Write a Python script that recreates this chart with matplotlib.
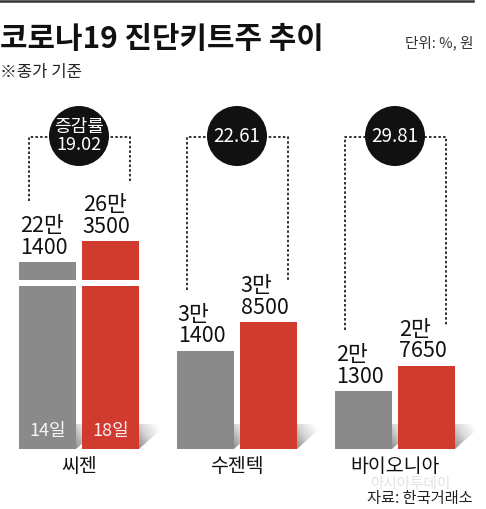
import matplotlib
matplotlib.use('Agg')
import matplotlib.pyplot as plt
import numpy as np
from matplotlib.patches import Circle, Polygon, Rectangle
from matplotlib.lines import Line2D
from matplotlib.colors import LinearSegmentedColormap

plt.rcParams['font.family'] = ['Noto Sans CJK KR', 'DejaVu Sans']

# ---------------- data ----------------
companies = ['씨젠', '수젠텍', '바이오니아']
price_14 = [221400, 31400, 21300]
price_18 = [263500, 38500, 27650]
change_pct = [19.02, 22.61, 29.81]
day_labels = ['14일', '18일']
change_title = '증감률'

# ---------------- layout ----------------
W, H = 486, 509
fig = plt.figure(figsize=(W / 100, H / 100), dpi=100)
fig.patch.set_facecolor('white')


def fx(px):
    return px / W


def fy(py):  # py measured from top
    return 1 - py / H


GRAY = '#8a8a8a'
RED = '#d03a2f'
x = np.arange(len(companies))
off = 0.199
bw = 0.361
xlim = (-0.5, 2.576)

bg = fig.add_axes([0, 0, 1, 1], zorder=0)
lo = fig.add_axes([0, fy(449), 1, fy(280) - fy(449)], zorder=1)
up = fig.add_axes([0, fy(286), 1, fy(100) - fy(286)], zorder=1)
ov = fig.add_axes([0, 0, 1, 1], zorder=5)
for a in (bg, ov):
    a.set_xlim(0, W)
    a.set_ylim(0, H)
    a.axis('off')
    a.patch.set_alpha(0)
for a in (lo, up):
    a.set_xlim(*xlim)
    a.axis('off')
    a.patch.set_alpha(0)
lo.set_ylim(6850, 48980)
up.set_ylim(173300, 546200)
lo_top = lo.get_ylim()[1]

series = [(price_14, GRAY, -off), (price_18, RED, off)]
p14 = np.array(price_14)
p18 = np.array(price_18)

# bars (lower part everywhere, upper part for the broken group)
for vals, col, dx in series:
    vals = np.array(vals)
    lo.bar(x + dx, vals, bw, color=col, zorder=3, clip_on=True)
    m = vals > lo_top
    up.bar(x[m] + dx, vals[m], bw, color=col, zorder=3, clip_on=True)

# white break band across bars that exceed the lower axis
band_lo = lo.transAxes.transform((0, 1))[1]
band_hi = up.transAxes.transform((0, 0))[1]
for i in range(len(companies)):
    if max(p14[i], p18[i]) > lo_top:
        xa = lo.transData.transform((x[i] - off - bw / 2 - 0.02, 0))[0]
        xb = lo.transData.transform((x[i] + off + bw / 2 + 0.02, 0))[0]
        ov.add_patch(Rectangle((xa, band_lo), xb - xa, band_hi - band_lo,
                               facecolor='white', edgecolor='none', zorder=1))


def label_text(v):
    return f"{v // 10000}만\n{v % 10000}"


def top_px(xv, v):
    ax = up if v > lo_top else lo
    return ax.transData.transform((xv, v))


# value labels
for vals, col, dx in series:
    for i, v in enumerate(vals):
        ax = up if v > lo_top else lo
        ax.annotate(label_text(v), (x[i] + dx - bw / 2, v), xytext=(0.5, 2.5),
                    textcoords='offset points', ha='left', va='bottom',
                    fontsize=15.5, linespacing=0.95, color='#111', zorder=6)

# day labels inside first group's bars
for (vals, col, dx), d in zip(series, day_labels):
    lo.annotate(d, (x[0] + dx, 0), xycoords=('data', 'axes fraction'),
                xytext=(0, 13), textcoords='offset points', ha='center',
                va='center', fontsize=13, color='white', alpha=0.92, zorder=6)

# category labels
for i, name in enumerate(companies):
    lo.annotate(name, (x[i], 0), xycoords=('data', 'axes fraction'),
                xytext=(0, -12.5), textcoords='offset points', ha='center',
                va='center', fontsize=14, color='#111', annotation_clip=False)

# floor shadows (gradient triangles) behind bars
cmap = LinearSegmentedColormap.from_list('sh', ['#8f8f8f', '#d6d6d6', '#ffffff'])
uu, vv = np.meshgrid(np.linspace(0, 1, 60), np.linspace(0, 1, 60))
grad = np.clip(0.8 * uu + 0.5 * vv, 0, 1)
floor = lo.get_ylim()[0]
for vals, col, dx in series:
    for i in range(len(companies)):
        xr_px, yb_px = lo.transData.transform((x[i] + dx + bw / 2, floor))
        poly = Polygon([(xr_px, yb_px), (xr_px, yb_px + 25), (xr_px + 28, yb_px + 25)],
                       closed=True, transform=bg.transData, facecolor='none', edgecolor='none')
        bg.add_patch(poly)
        im = bg.imshow(grad, cmap=cmap, vmin=0, vmax=1, origin='lower',
                       extent=[xr_px, xr_px + 28, yb_px, yb_px + 25], aspect='auto',
                       interpolation='bilinear')
        im.set_clip_path(poly)
bg.set_xlim(0, W)
bg.set_ylim(0, H)

# connectors and circles
conn_y = H - 137
circ_y = H - 136
for i in range(len(companies)):
    xl_px = lo.transData.transform((x[i] - off - bw / 2, 0))[0] + 10
    xr_px = lo.transData.transform((x[i] + off + bw / 2, 0))[0] - 9
    gtop = top_px(x[i] - off, p14[i])[1]
    rtop = top_px(x[i] + off, p18[i])[1]
    first_r = label_text(int(p18[i])).split('\n')[0]
    r_gap = 60 if len(first_r) > 2 else 40
    ls = (0, (1.4, 1.2))
    ov.plot([xl_px, xl_px, xr_px, xr_px], [gtop + 61, conn_y, conn_y, rtop + r_gap],
            color='#222', lw=1.3, linestyle=ls, zorder=2, solid_capstyle='butt')
    cx = lo.transData.transform((x[i], 0))[0]
    ov.add_patch(Circle((cx, circ_y), 30, facecolor='#111', edgecolor='none', zorder=3))
    if i == 0:
        ov.text(cx, circ_y, f"{change_title}\n{change_pct[i]:.2f}", ha='center',
                va='center', fontsize=13, color='white', linespacing=1.0, zorder=4)
    else:
        ov.text(cx, circ_y, f"{change_pct[i]:.2f}", ha='center', va='center',
                fontsize=13.5, color='white', zorder=4)

# header / footer texts
fig.add_artist(Line2D([0, fx(473)], [fy(1), fy(1)], transform=fig.transFigure,
                      color='#333333', lw=1.8))
fig.text(fx(0), fy(39), '코로나19 진단키트주 추이', ha='left', va='center',
         fontsize=21.5, fontweight='bold', color='#111')
fig.text(fx(473), fy(43), '단위: %, 원', ha='right', va='center',
         fontsize=10.5, color='#333')
fig.text(fx(0), fy(72), '※종가 기준', ha='left', va='center',
         fontsize=12, color='#222')
fig.text(fx(410), fy(484), '아시아투데이', ha='center', va='center',
         fontsize=10.5, color='#e2e2e2')
fig.text(fx(473), fy(498), '자료: 한국거래소', ha='right', va='center',
         fontsize=11, color='#222')

fig.savefig('out.png', dpi=100, facecolor='white')
